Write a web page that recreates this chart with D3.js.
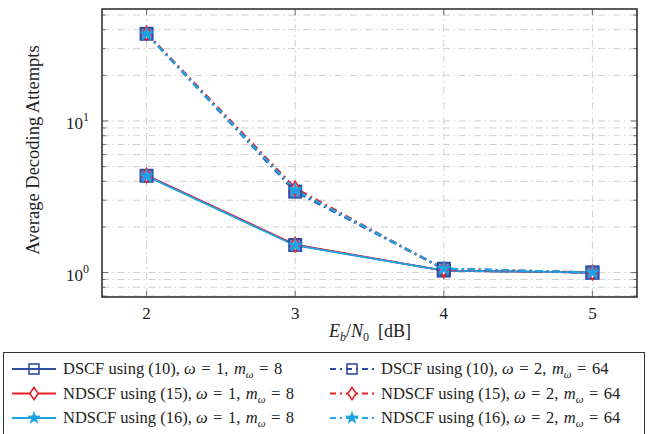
<!DOCTYPE html>
<html>
<head>
<meta charset="utf-8">
<script src="https://cdn.jsdelivr.net/npm/d3@7"></script>
<style>
  body { margin: 0; background: #fff; }
  svg { display: block; }
  text { font-family: "Liberation Serif", "Times New Roman", serif; fill: #222; }
</style>
</head>
<body>
<div id="chart"></div>
<script>
// data
var snr = [2, 3, 4, 5];
var dscfW1 = [4.35, 1.52, 1.03, 1.0];
var ndscf15W1 = [4.38, 1.53, 1.03, 1.0];
var ndscf16W1 = [4.33, 1.51, 1.03, 1.0];
var dscfW2 = [37.6, 3.42, 1.06, 1.0];
var ndscf15W2 = [37.9, 3.6, 1.05, 1.0];
var ndscf16W2 = [37.5, 3.5, 1.06, 1.0];
var xTicks = [2, 3, 4, 5];
var yTicks = [1, 10];

var COLORS = { blue: "#2f4ea3", red: "#e8222a", cyan: "#1ca3e6", grid: "#cfcfcf", axis: "#333" };

var series = [
  { name: "DSCF using (10), ", w: "1", m: "8", values: dscfW1, color: COLORS.blue, mark: "square", dashed: false },
  { name: "NDSCF using (15), ", w: "1", m: "8", values: ndscf15W1, color: COLORS.red, mark: "diamond", dashed: false },
  { name: "NDSCF using (16), ", w: "1", m: "8", values: ndscf16W1, color: COLORS.cyan, mark: "star", dashed: false },
  { name: "DSCF using (10), ", w: "2", m: "64", values: dscfW2, color: COLORS.blue, mark: "square", dashed: true },
  { name: "NDSCF using (15), ", w: "2", m: "64", values: ndscf15W2, color: COLORS.red, mark: "diamond", dashed: true },
  { name: "NDSCF using (16), ", w: "2", m: "64", values: ndscf16W2, color: COLORS.cyan, mark: "star", dashed: true },
];

var width = 648, height = 434;
var plot = { left: 102, right: 637, top: 9, bottom: 297 };
var dashDot = "7,3.5,1.5,3.5";

var svg = d3.select("#chart").append("svg").attr("width", width).attr("height", height);

var xScale = d3.scaleLinear().domain([1.7, 5.3]).range([plot.left, plot.right]);
var yScale = d3.scaleLog().domain([0.69, 54.8]).range([plot.bottom, plot.top]);

// grid lines (minor + major)
var minorY = [0.7, 0.8, 0.9, 2, 3, 4, 5, 6, 7, 8, 9, 20, 30, 40, 50];
var grid = svg.append("g").attr("class", "grid");
grid.selectAll(".gy")
  .data(minorY.concat(yTicks))
  .enter().append("line")
  .attr("x1", plot.left).attr("x2", plot.right)
  .attr("y1", (d) => yScale(d)).attr("y2", (d) => yScale(d))
  .style("stroke", COLORS.grid).style("stroke-width", 1).style("stroke-dasharray", dashDot);
grid.selectAll(".gx")
  .data(xTicks)
  .enter().append("line")
  .attr("x1", (d) => xScale(d)).attr("x2", (d) => xScale(d))
  .attr("y1", plot.top).attr("y2", plot.bottom)
  .style("stroke", COLORS.grid).style("stroke-width", 1).style("stroke-dasharray", dashDot);

// inward ticks on all four sides
var ticks = svg.append("g").style("stroke", "#555").style("stroke-width", 0.8);
minorY.concat(yTicks).forEach(function (d) {
  var len = yTicks.indexOf(d) >= 0 ? 6 : 3.5;
  var y = yScale(d);
  ticks.append("line").attr("x1", plot.left).attr("x2", plot.left + len).attr("y1", y).attr("y2", y);
  ticks.append("line").attr("x1", plot.right).attr("x2", plot.right - len).attr("y1", y).attr("y2", y);
});
xTicks.forEach(function (d) {
  var x = xScale(d);
  ticks.append("line").attr("x1", x).attr("x2", x).attr("y1", plot.bottom).attr("y2", plot.bottom - 6);
  ticks.append("line").attr("x1", x).attr("x2", x).attr("y1", plot.top).attr("y2", plot.top + 6);
});

// tick labels
svg.append("g").selectAll("text")
  .data(xTicks)
  .enter().append("text")
  .attr("x", (d) => xScale(d)).attr("y", plot.bottom + 22)
  .attr("text-anchor", "middle").style("font-size", "17px")
  .text((d) => d);

var yLab = svg.append("g").selectAll("text")
  .data(yTicks)
  .enter().append("text")
  .attr("x", plot.left - 13).attr("y", (d) => yScale(d) + 8)
  .attr("text-anchor", "end").style("font-size", "17px");
yLab.append("tspan").text("10");
yLab.append("tspan").attr("dy", -8).style("font-size", "12px").text((d) => Math.round(Math.log10(d)));

// axis titles
svg.append("text")
  .attr("transform", `translate(39,${(plot.top + plot.bottom) / 2 - 3}) rotate(-90)`)
  .attr("text-anchor", "middle").style("font-size", "18.5px")
  .text("Average Decoding Attempts");

var xt = svg.append("text").attr("x", 370).attr("y", 337).attr("text-anchor", "middle").style("font-size", "18px");
xt.append("tspan").style("font-style", "italic").text("E");
xt.append("tspan").attr("dy", 4).style("font-style", "italic").style("font-size", "12px").text("b");
xt.append("tspan").attr("dy", -4).text("/");
xt.append("tspan").style("font-style", "italic").text("N");
xt.append("tspan").attr("dy", 4).style("font-size", "12px").text("0");
xt.append("tspan").attr("dy", -4).text("\u2002[dB]");

// markers
function drawMark(g, type, color, x, y, legendMark) {
  if (type == "square") {
    var h = legendMark ? 5 : 6;
    g.append("rect").attr("x", x - h).attr("y", y - h).attr("width", 2 * h).attr("height", 2 * h)
      .style("fill", legendMark ? "none" : "#6d8ad3").style("stroke", color).style("stroke-width", legendMark ? 1.6 : 2);
  } else if (type == "diamond") {
    var dh = legendMark ? 6 : 7;
    g.append("path").attr("d", `M${x},${y - dh}L${x + 4.2},${y}L${x},${y + dh}L${x - 4.2},${y}Z`)
      .style("fill", "#fff").style("stroke", color).style("stroke-width", 1.6);
  } else {
    g.append("path").attr("d", d3.symbol().type(d3.symbolStar).size(legendMark ? 45 : 60)())
      .attr("transform", `translate(${x},${y})`)
      .style("fill", color).style("stroke", color).style("stroke-width", 0.8);
  }
}

var line = d3.line().x((d, i) => xScale(snr[i])).y((d) => yScale(d));

var plotG = svg.append("g");
series.forEach(function (s) {
  plotG.append("path")
    .datum(s.values)
    .attr("d", line)
    .style("fill", "none")
    .style("stroke", s.color)
    .style("stroke-width", s.dashed ? 2.4 : 1.8)
    .style("stroke-dasharray", s.dashed ? "7,4,2,4" : null);
});
series.forEach(function (s) {
  var g = plotG.append("g");
  s.values.forEach((v, i) => drawMark(g, s.mark, s.color, xScale(snr[i]), yScale(v), false));
});

// frame
svg.append("rect")
  .attr("x", plot.left).attr("y", plot.top)
  .attr("width", plot.right - plot.left).attr("height", plot.bottom - plot.top)
  .style("fill", "none").style("stroke", COLORS.axis).style("stroke-width", 1.6);

// legend
var legend = svg.append("g");
legend.append("rect").attr("x", 3.5).attr("y", 352.5).attr("width", 641).attr("height", 90)
  .style("fill", "#fff").style("stroke", COLORS.axis).style("stroke-width", 1);

var rowY = [369, 393.5, 418];
var eq = "\u2004=\u2004";
series.forEach(function (s, i) {
  var col = i < 3 ? 0 : 1;
  var row = i % 3;
  var x0 = col ? 330 : 12;
  var y = rowY[row];
  var g = legend.append("g");
  g.append("line").attr("x1", x0).attr("x2", x0 + 44).attr("y1", y).attr("y2", y)
    .style("stroke", s.color).style("stroke-width", 1.8)
    .style("stroke-dasharray", s.dashed ? "6,4,2,4" : null);
  drawMark(g, s.mark, s.color, x0 + 22, y, true);
  var t = g.append("text").attr("x", x0 + 51).attr("y", y + 5).style("font-size", "16.5px");
  t.append("tspan").text(s.name);
  t.append("tspan").style("font-style", "italic").text("\u03c9");
  t.append("tspan").text(eq + s.w + ",\u2004");
  t.append("tspan").style("font-style", "italic").text("m");
  t.append("tspan").attr("dy", 4).style("font-style", "italic").style("font-size", "11px").text("\u03c9");
  t.append("tspan").attr("dy", -4).text(eq + s.m);
});
</script>
</body>
</html>
